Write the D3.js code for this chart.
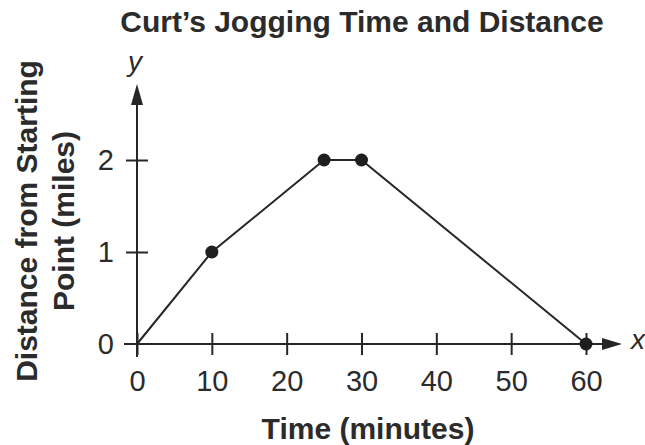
<!DOCTYPE html>
<html>
<head>
<meta charset="utf-8">
<script src="https://cdn.jsdelivr.net/npm/d3@7"></script>
<style>
  body { margin: 0; background: #fff; }
  svg { display: block; font-family: "Liberation Sans", Arial, sans-serif; }
</style>
</head>
<body>
<svg width="645" height="445"></svg>
<script>
// data
const times = [0, 10, 25, 30, 60];        // minutes
const distances = [0, 1, 2, 2, 0];        // miles
const xTicks = [0, 10, 20, 30, 40, 50, 60];
const yTicks = [0, 1, 2];

const ink = '#262626';
const textInk = '#2b2b2b';
const font = '"Liberation Sans", Arial, sans-serif';

const svg = d3.select('svg');

const x = d3.scaleLinear().domain([0, 60]).range([137, 586]);
const y = d3.scaleLinear().domain([0, 2]).range([344, 160]);

// title
svg.append('text')
    .attr('x', 362)
    .attr('y', 32)
    .attr('text-anchor', 'middle')
    .attr('font-weight', 'bold')
    .attr('font-size', 30)
    .attr('fill', textInk)
    .text('Curt\u2019s Jogging Time and Distance');

// axis lines with arrows
svg.append('line')
    .attr('x1', x(0) - 13).attr('y1', y(0))
    .attr('x2', 604).attr('y2', y(0))
    .attr('stroke', ink).attr('stroke-width', 2);
svg.append('path')
    .attr('d', `M602,${y(0) - 6}L622,${y(0)}L602,${y(0) + 6}Z`)
    .attr('fill', ink);

svg.append('line')
    .attr('x1', x(0)).attr('y1', y(0) + 13)
    .attr('x2', x(0)).attr('y2', 103)
    .attr('stroke', ink).attr('stroke-width', 2);
svg.append('path')
    .attr('d', `M${x(0) - 6},105L${x(0)},84L${x(0) + 6},105Z`)
    .attr('fill', ink);

// x axis ticks
const gx = svg.append('g')
    .attr('transform', `translate(0,${y(0)})`)
    .call(d3.axisBottom(x).tickValues(xTicks).tickSize(11).tickPadding(15));
gx.select('.domain').remove();
gx.selectAll('.tick line')
    .attr('y1', -11).attr('y2', 11)
    .attr('stroke', ink).attr('stroke-width', 2);
gx.selectAll('.tick text')
    .attr('font-size', 29)
    .attr('fill', textInk)
    .attr('font-family', font);

// y axis ticks (0 has no tick mark of its own)
const gy = svg.append('g')
    .attr('transform', `translate(${x(0)},0)`)
    .call(d3.axisLeft(y).tickValues(yTicks).tickFormat(d3.format('d')).tickSize(11).tickPadding(12));
gy.select('.domain').remove();
gy.selectAll('.tick line')
    .attr('x1', 11).attr('x2', -11)
    .attr('stroke', ink).attr('stroke-width', 2)
    .attr('display', d => d === 0 ? 'none' : null);
gy.selectAll('.tick text')
    .attr('font-size', 29)
    .attr('fill', textInk)
    .attr('font-family', font);

// axis letters
svg.append('text')
    .attr('x', 638).attr('y', 349)
    .attr('text-anchor', 'middle')
    .attr('font-style', 'italic')
    .attr('font-size', 28)
    .attr('fill', textInk)
    .text('x');
svg.append('text')
    .attr('x', 135).attr('y', 71)
    .attr('text-anchor', 'middle')
    .attr('font-style', 'italic')
    .attr('font-size', 28)
    .attr('fill', textInk)
    .text('y');

// axis titles
svg.append('text')
    .attr('x', 368).attr('y', 439)
    .attr('text-anchor', 'middle')
    .attr('font-weight', 'bold')
    .attr('font-size', 30)
    .attr('fill', textInk)
    .text('Time (minutes)');

const yTitle = svg.append('text')
    .attr('transform', 'translate(0,221) rotate(-90)')
    .attr('text-anchor', 'middle')
    .attr('font-weight', 'bold')
    .attr('font-size', 30)
    .attr('fill', textInk);
yTitle.append('tspan').attr('x', 0).attr('y', 37).text('Distance from Starting');
yTitle.append('tspan').attr('x', 0).attr('y', 74).text('Point (miles)');

// the jog
const pts = times.map((t, i) => ({ t, d: distances[i] }));
svg.append('path')
    .datum(pts)
    .attr('d', d3.line().x(d => x(d.t)).y(d => y(d.d)))
    .attr('fill', 'none')
    .attr('stroke', ink)
    .attr('stroke-width', 2);

svg.selectAll('.dot')
    .data(pts.slice(1))
    .enter().append('circle')
    .attr('class', 'dot')
    .attr('cx', d => x(d.t))
    .attr('cy', d => y(d.d))
    .attr('r', 6.5)
    .attr('fill', '#1e1e1e');
</script>
</body>
</html>
